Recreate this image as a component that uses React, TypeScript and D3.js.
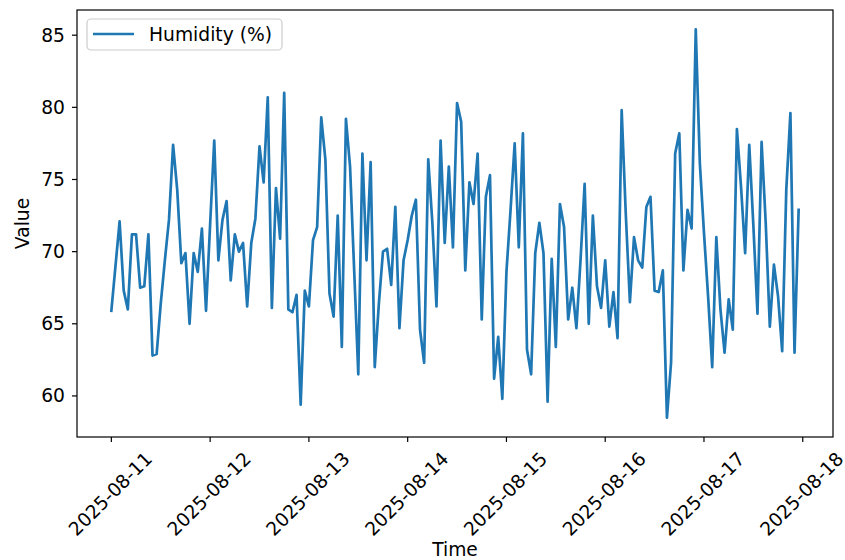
import React from "react";
import * as d3 from "d3";

// Hourly humidity readings (%), one array per day, starting 2025-08-11 00:00
const day1 = [65.9, 69.0, 72.1, 67.3, 66.0, 71.2, 71.2, 67.5, 67.6, 71.2, 62.8, 62.9, 66.4, 69.4, 72.2, 77.4, 74.3, 69.2, 69.9, 65.0, 69.9, 68.6, 71.6, 65.9];
const day2 = [71.9, 77.7, 69.4, 72.2, 73.5, 68.0, 71.2, 70.0, 70.6, 66.2, 70.6, 72.3, 77.3, 74.8, 80.7, 66.1, 74.4, 70.9, 81.0, 66.0, 65.8, 67.0, 59.4, 67.3];
const day3 = [66.2, 70.8, 71.7, 79.3, 76.4, 67.1, 65.5, 72.5, 63.4, 79.2, 75.9, 68.7, 61.5, 76.8, 69.4, 76.2, 62.0, 66.4, 70.0, 70.2, 67.7, 73.1, 64.7, 69.4];
const day4 = [70.8, 72.5, 73.6, 64.6, 62.3, 76.4, 72.0, 66.2, 77.7, 70.6, 75.9, 70.3, 80.3, 79.0, 68.7, 74.8, 73.3, 76.8, 65.3, 73.8, 75.3, 61.2, 64.1, 59.8];
const day5 = [68.6, 72.9, 77.5, 70.3, 78.2, 63.2, 61.5, 69.9, 72.0, 69.9, 59.6, 69.5, 63.4, 73.3, 71.7, 65.3, 67.5, 64.7, 69.4, 74.7, 65.0, 72.5, 67.6, 66.1];
const day6 = [69.4, 64.8, 67.2, 64.0, 79.8, 72.6, 66.5, 71.0, 69.4, 68.9, 73.1, 73.8, 67.3, 67.2, 68.7, 58.5, 62.3, 76.8, 78.2, 68.7, 72.9, 71.6, 85.4, 76.1];
const day7 = [71.3, 66.9, 62.0, 71.0, 66.0, 63.0, 66.7, 64.6, 78.5, 74.5, 69.9, 77.4, 71.8, 65.7, 77.6, 72.0, 64.8, 69.1, 66.9, 63.1, 74.3, 79.6, 63.0, 72.9];

const dayLabels = ["2025-08-11", "2025-08-12", "2025-08-13", "2025-08-14", "2025-08-15", "2025-08-16", "2025-08-17"];
const xTickLabels = ["2025-08-11", "2025-08-12", "2025-08-13", "2025-08-14", "2025-08-15", "2025-08-16", "2025-08-17", "2025-08-18"];
const yTicks = [60, 65, 70, 75, 80, 85];
const seriesName = "Humidity (%)";

type Pt = { t: Date; v: number };

const days = [day1, day2, day3, day4, day5, day6, day7];
const data: Pt[] = [];
days.forEach((vals, di) => {
  const base = new Date(dayLabels[di] + "T00:00:00Z").getTime();
  vals.forEach((v, h) => data.push({ t: new Date(base + h * 3600 * 1000), v }));
});

const W = 845;
const H = 560;
const M = { left: 77, right: 833, top: 10, bottom: 437 };
const FONT = "DejaVu Sans, sans-serif";
const FS = 18.7;
const BLUE = "#1f77b4";

export default function App() {
  const tExt = d3.extent(data, (d) => d.t.getTime()) as [number, number];
  const tPad = (tExt[1] - tExt[0]) * 0.05;
  const vExt = d3.extent(data, (d) => d.v) as [number, number];
  const vPad = (vExt[1] - vExt[0]) * 0.05;

  const x = d3
    .scaleUtc()
    .domain([new Date(tExt[0] - tPad), new Date(tExt[1] + tPad)])
    .range([M.left, M.right]);
  const y = d3
    .scaleLinear()
    .domain([vExt[0] - vPad, vExt[1] + vPad])
    .range([M.bottom, M.top]);

  const line = d3
    .line<Pt>()
    .x((d) => x(d.t))
    .y((d) => y(d.v));

  const tickLen = 5;

  return (
    <svg
      width={W}
      height={H}
      style={{ position: "absolute", left: 0, top: 0, background: "#fff" }}
      fontFamily={FONT}
    >
      <rect x={0} y={0} width={W} height={H} fill="#fff" />
      <defs>
        <clipPath id="plotclip">
          <rect x={M.left} y={M.top} width={M.right - M.left} height={M.bottom - M.top} />
        </clipPath>
      </defs>

      <path
        d={line(data) || ""}
        fill="none"
        stroke={BLUE}
        strokeWidth={2.7}
        strokeLinejoin="round"
        strokeLinecap="square"
        clipPath="url(#plotclip)"
      />

      {/* spines */}
      <rect
        x={M.left}
        y={M.top}
        width={M.right - M.left}
        height={M.bottom - M.top}
        fill="none"
        stroke="#000"
        strokeWidth={1.2}
      />

      {/* y ticks */}
      {yTicks.map((t) => (
        <g key={"y" + t}>
          <line x1={M.left - tickLen} x2={M.left} y1={y(t)} y2={y(t)} stroke="#000" strokeWidth={1.2} />
          <text
            x={M.left - tickLen - 7}
            y={y(t)}
            textAnchor="end"
            dominantBaseline="central"
            fontSize={FS}
            fill="#000"
          >
            {t}
          </text>
        </g>
      ))}

      {/* x ticks */}
      {xTickLabels.map((lab) => {
        const px = x(new Date(lab + "T00:00:00Z"));
        return (
          <g key={lab}>
            <line x1={px} x2={px} y1={M.bottom} y2={M.bottom + tickLen} stroke="#000" strokeWidth={1.2} />
            <text
              transform={`translate(${px - 1},${M.bottom + 57}) rotate(-45)`}
              textAnchor="middle"
              dominantBaseline="central"
              fontSize={FS}
              fill="#000"
            >
              {lab}
            </text>
          </g>
        );
      })}

      {/* axis labels */}
      <text x={(M.left + M.right) / 2} y={549} textAnchor="middle" dominantBaseline="central" fontSize={FS} fill="#000">
        Time
      </text>
      <text
        transform={`translate(22,${(M.top + M.bottom) / 2}) rotate(-90)`}
        textAnchor="middle"
        dominantBaseline="central"
        fontSize={FS}
        fill="#000"
      >
        Value
      </text>

      {/* legend */}
      <g>
        <rect x={87} y={19} width={195} height={31} rx={4} ry={4} fill="#fff" fillOpacity={0.8} stroke="#cccccc" strokeWidth={1.2} />
        <line x1={93} x2={134} y1={34} y2={34} stroke={BLUE} strokeWidth={2.7} />
        <text x={149} y={34} dominantBaseline="central" fontSize={FS} fill="#000">
          {seriesName}
        </text>
      </g>
    </svg>
  );
}
